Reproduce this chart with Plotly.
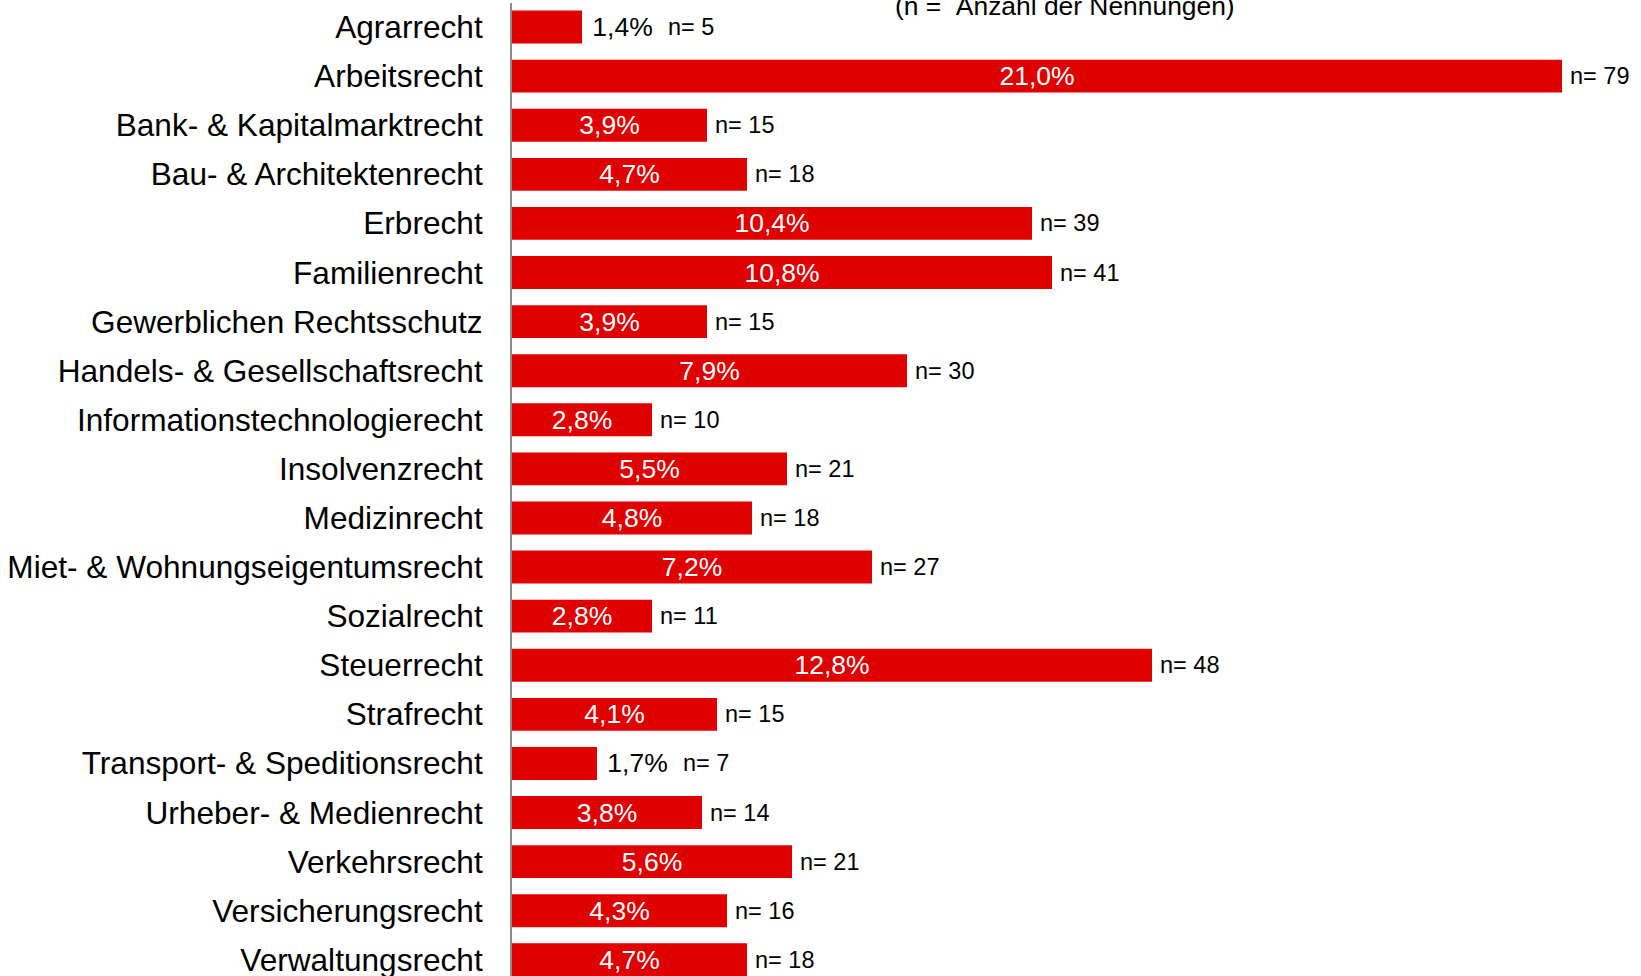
import plotly.graph_objects as go

# Rechtsgebiete und Anteile der Nennungen
categories = [
    "Agrarrecht", "Arbeitsrecht", "Bank- & Kapitalmarktrecht", "Bau- & Architektenrecht",
    "Erbrecht", "Familienrecht", "Gewerblichen Rechtsschutz", "Handels- & Gesellschaftsrecht",
    "Informationstechnologierecht", "Insolvenzrecht", "Medizinrecht",
    "Miet- & Wohnungseigentumsrecht", "Sozialrecht", "Steuerrecht", "Strafrecht",
    "Transport- & Speditionsrecht", "Urheber- & Medienrecht", "Verkehrsrecht",
    "Versicherungsrecht", "Verwaltungsrecht",
]
percent = [1.4, 21.0, 3.9, 4.7, 10.4, 10.8, 3.9, 7.9, 2.8, 5.5, 4.8, 7.2, 2.8, 12.8,
           4.1, 1.7, 3.8, 5.6, 4.3, 4.7]
counts = [5, 79, 15, 18, 39, 41, 15, 30, 10, 21, 18, 27, 11, 48, 15, 7, 14, 21, 16, 18]

BAR_RED = "#DF0000"
FONT = "Liberation Sans, Arial, sans-serif"
SMALL_BAR = 2.0  # bars narrower than this get their percentage outside

pct_text = [f"{v:.1f}".replace(".", ",") + "%" for v in percent]
inside = [v >= SMALL_BAR for v in percent]
positions = ["inside" if i else "outside" for i in inside]
shown_text = [t if i else "\u00a0" + t for t, i in zip(pct_text, inside)]

fig = go.Figure(
    go.Bar(
        x=percent,
        y=categories,
        orientation="h",
        marker=dict(color=BAR_RED, line=dict(width=0)),
        width=0.67,
        text=shown_text,
        textposition=positions,
        insidetextanchor="middle",
        constraintext="none",
        cliponaxis=False,
        insidetextfont=dict(family=FONT, size=26.5, color="white"),
        outsidetextfont=dict(family=FONT, size=26.5, color="black"),
        hoverinfo="skip",
    )
)

# "n= ..." labels next to each bar
for cat, v, n, i in zip(categories, percent, counts, inside):
    fig.add_annotation(
        x=v, y=cat, xref="x", yref="y",
        text=f"n=\u00a0{n}",
        showarrow=False, xanchor="left", yanchor="middle",
        xshift=6 if i else 84,
        font=dict(family=FONT, size=23.5, color="black"),
    )

fig.add_annotation(
    x=0.4916, y=1, xref="paper", yref="paper",
    text="(n =\u00a0\u00a0Anzahl der Nennungen)",
    showarrow=False, xanchor="center", yanchor="middle", yshift=-3,
    font=dict(family=FONT, size=26.4, color="black"),
)

fig.update_layout(
    width=1641, height=976,
    margin=dict(l=512, r=4, t=3, b=0),
    paper_bgcolor="white", plot_bgcolor="white",
    showlegend=False,
    xaxis=dict(range=[0, 22.5], visible=False, fixedrange=True),
    yaxis=dict(
        range=[19.33, -0.49],
        showline=True, linecolor="#8C8C8C", linewidth=2,
        showgrid=False, zeroline=False, ticks="",
        ticklabelstandoff=21,
        tickfont=dict(family=FONT, size=31.6, color="black"),
        automargin=False,
    ),
)

fig.write_html("out.html")
